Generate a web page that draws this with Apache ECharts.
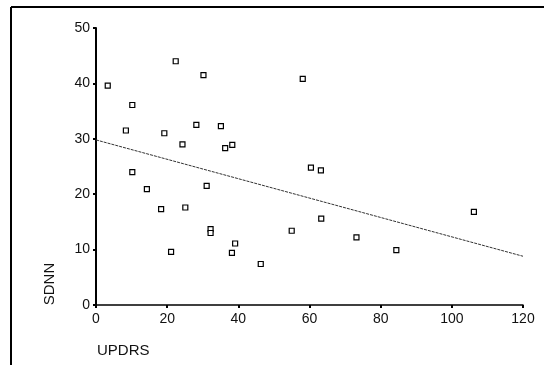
<!DOCTYPE html>
<html>
<head>
    <meta charset="utf-8">
    <title>SDNN vs UPDRS</title>
    <script src="https://cdn.jsdelivr.net/npm/echarts@6/dist/echarts.min.js"></script>
    <style>
        html, body { margin: 0; padding: 0; background: #fff; }
    </style>
</head>
<body>
    <div id="main" style="width: 544px;height:365px;"></div>
    <script type="text/javascript">
        // points: UPDRS (x), SDNN (y)
        var updrs = [3.3, 10.2, 8.4, 19.2, 24.3, 22.4, 28.2, 30.2, 35.1, 36.3,
                     38.3, 10.2, 14.3, 18.3, 25.1, 21.1, 31.1, 32.2, 32.2, 39.1,
                     38.2, 46.3, 55.0, 58.1, 60.4, 63.2, 63.3, 73.2, 84.4, 106.2];
        var sdnn = [39.6, 36.1, 31.5, 31.0, 29.0, 44.0, 32.5, 41.5, 32.3, 28.3,
                    28.9, 24.0, 20.9, 17.3, 17.6, 9.6, 21.5, 13.7, 13.0, 11.1,
                    9.4, 7.4, 13.4, 40.8, 24.8, 24.3, 15.6, 12.2, 9.9, 16.8];
        // fitted line end points
        var fitX = [0, 120];
        var fitY = [29.8, 8.8];
        var xTicks = [0, 20, 40, 60, 80, 100, 120];
        var yTicks = [0, 10, 20, 30, 40, 50];

        var pts = [];
        for (var i = 0; i < updrs.length; i++) {
            pts.push([updrs[i], sdnn[i]]);
        }
        var fit = [];
        for (var j = 0; j < fitX.length; j++) {
            fit.push([fitX[j], fitY[j]]);
        }

        var myChart = echarts.init(document.getElementById('main'));
        var labelFont = { color: '#111', fontSize: 14, fontFamily: 'Liberation Sans' };
        var option = {
            animation: false,
            backgroundColor: '#fff',
            grid: { left: 96, right: 21, top: 28, bottom: 60 },
            xAxis: {
                type: 'value',
                min: xTicks[0],
                max: xTicks[xTicks.length - 1],
                interval: 20,
                splitLine: { show: false },
                axisLine: { lineStyle: { color: '#000', width: 1.5 } },
                axisTick: { length: 3, lineStyle: { color: '#000', width: 2 } },
                axisLabel: Object.assign({ margin: 7 }, labelFont)
            },
            yAxis: {
                type: 'value',
                min: yTicks[0],
                max: yTicks[yTicks.length - 1],
                interval: 10,
                splitLine: { show: false },
                axisLine: { show: true, lineStyle: { color: '#000', width: 2 } },
                axisTick: { show: true, length: 3, lineStyle: { color: '#000', width: 2 } },
                axisLabel: Object.assign({ margin: 6 }, labelFont)
            },
            graphic: [
                { type: 'line', shape: { x1: 11, y1: 7, x2: 544, y2: 7 }, style: { stroke: '#000', lineWidth: 2 } },
                { type: 'line', shape: { x1: 11, y1: 7, x2: 11, y2: 365 }, style: { stroke: '#000', lineWidth: 2 } },
                { type: 'text', left: 97, top: 343, style: { text: 'UPDRS', fill: '#111', font: '15px "Liberation Sans"' } },
                { type: 'text', x: 50, y: 284, rotation: Math.PI / 2,
                  style: { text: 'SDNN', fill: '#111', font: '15px "Liberation Sans"', align: 'center', verticalAlign: 'middle' } }
            ],
            series: [
                {
                    type: 'line',
                    data: fit,
                    symbol: 'none',
                    lineStyle: { color: '#333', width: 1, type: [3, 1] },
                    z: 1
                },
                {
                    type: 'scatter',
                    data: pts,
                    symbol: 'rect',
                    symbolSize: 5,
                    itemStyle: { color: '#fff', borderColor: '#000', borderWidth: 1.2, opacity: 1 },
                    z: 2
                }
            ]
        };
        myChart.setOption(option);
    </script>
</body>
</html>
